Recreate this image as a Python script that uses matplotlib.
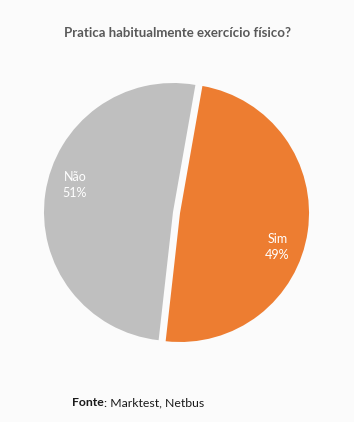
import matplotlib
matplotlib.use("Agg")
import matplotlib.pyplot as plt

# dados
categorias = ["Sim", "Não"]
valores = [49, 51]
cores = ["#ED7D31", "#BFBFBF"]
titulo = "Pratica habitualmente exercício físico?"

W, H = 354, 422
fig = plt.figure(figsize=(W / 100, H / 100), dpi=100, facecolor="#FBFBFB")

# eixo do bolo: centro (173, 212) px, raio 129 px
cx, cy, r = 173, 212, 129
ax = fig.add_axes([(cx - r) / W, (H - cy - r) / H, 2 * r / W, 2 * r / H])
ax.set_facecolor("#FBFBFB")

wedges, texts = ax.pie(valores, colors=cores, startangle=80, counterclock=False,
                       explode=[0.055, 0], radius=1.0,
                       labels=[f"{c}\n{v}%" for c, v in zip(categorias, valores)],
                       labeldistance=0.8,
                       textprops=dict(color="white", fontsize=9, family="Lato",
                                      ha="center", va="center", linespacing=1.35),
                       wedgeprops=dict(linewidth=0))
# posicao dos rotulos como no original
texts[0].set_position((0.81, -0.27))
texts[1].set_position((-0.76, 0.21))
ax.set_xlim(-1, 1)
ax.set_ylim(-1, 1)
ax.set_aspect("equal")
ax.axis("off")

fig.text(177 / W, 1 - 33 / H, titulo, ha="center", va="center",
         fontsize=9.5, fontweight="bold", color="#595959", family="Lato")

t1 = fig.text(72 / W, 1 - 403 / H, "Fonte", ha="left", va="center",
              fontsize=8.8, fontweight="bold", color="#1a1a1a", family="Lato")
fig.canvas.draw()
bb = t1.get_window_extent()
fig.text(bb.x1 / W, 1 - 403 / H, ": Marktest, Netbus", ha="left", va="center",
         fontsize=8.8, color="#1a1a1a", family="Lato")

fig.savefig("out.png", dpi=100, facecolor=fig.get_facecolor())
